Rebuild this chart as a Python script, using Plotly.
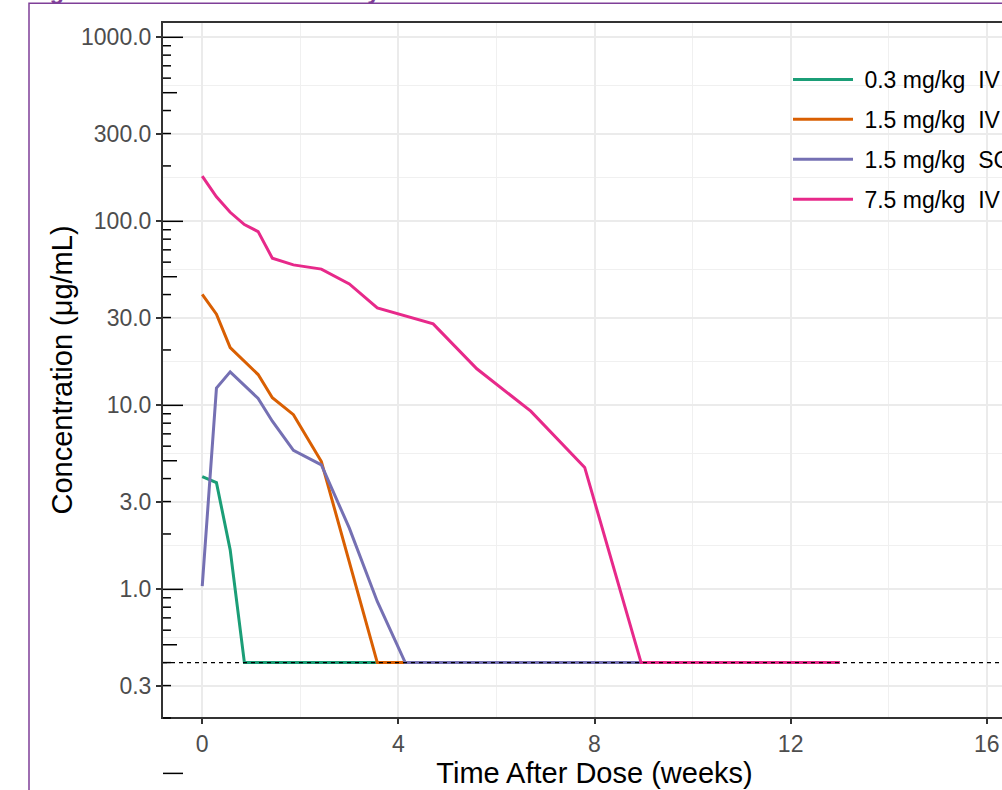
import math
import plotly.graph_objects as go

# ---------------- data ----------------
series_names = ["0.3 mg/kg\u00a0 IV", "1.5 mg/kg\u00a0 IV", "1.5 mg/kg\u00a0 SC", "7.5 mg/kg\u00a0 IV"]
series_colors = ["#1B9E77", "#D95F02", "#7570B3", "#E7298A"]

weeks_03iv = [0, 0.29, 0.57, 0.86, 13.0]
conc_03iv = [4.1, 3.8, 1.64, 0.4, 0.4]

weeks_15iv = [0, 0.29, 0.57, 0.86, 1.14, 1.43, 1.86, 2.43, 3.0, 3.57, 4.14, 13.0]
conc_15iv = [40.1, 31.3, 20.6, 17.3, 14.7, 11.0, 8.9, 4.95, 1.42, 0.4, 0.4, 0.4]

weeks_15sc = [0, 0.29, 0.57, 0.86, 1.14, 1.43, 1.86, 2.43, 3.0, 3.57, 4.14, 13.0]
conc_15sc = [1.04, 12.4, 15.2, 12.9, 10.9, 8.2, 5.7, 4.75, 2.15, 0.86, 0.4, 0.4]

weeks_75iv = [0, 0.29, 0.57, 0.86, 1.14, 1.43, 1.86, 2.43, 3.0, 3.57, 4.71, 5.6, 6.7, 7.8, 8.95, 13.0]
conc_75iv = [176, 136, 112, 96, 88, 63, 58, 55, 45.7, 33.8, 27.7, 15.8, 9.3, 4.6, 0.4, 0.4]

lloq = 0.4

x_tickvals = [0, 4, 8, 12, 16]
x_minor = [2, 6, 10, 14]
y_tickvals = [0.3, 1, 3, 10, 30, 100, 300, 1000]
y_ticktext = ["0.3", "1.0", "3.0", "10.0", "30.0", "100.0", "300.0", "1000.0"]
y_minor = [0.548, 1.73, 5.48, 17.3, 54.8, 173, 548]

title_text = "Figure 1: Mean Serum Antibody Concentration-Time Profiles"

# ---------------- layout constants ----------------
W, H = 1100, 800
ML, MR, MT, MB = 163, 74, 23, 83
PLOT_W = W - ML - MR
PLOT_H = H - MT - MB
X_RANGE = [-0.8, 16.8]
Y_LO, Y_HI = math.log10(0.2025), math.log10(1196)
FONT = "Liberation Sans, Arial, sans-serif"

fig = go.Figure()
all_x = [weeks_03iv, weeks_15iv, weeks_15sc, weeks_75iv]
all_y = [conc_03iv, conc_15iv, conc_15sc, conc_75iv]
for i, (name, col, xs, ys) in enumerate(zip(series_names, series_colors, all_x, all_y)):
    fig.add_trace(go.Scatter(x=xs, y=ys, mode="lines", name="\u00a0" + name,
                             line=dict(color=col, width=3), legendgroup=f"g{i}"))

# LLOQ dashed reference line across the axis range
fig.add_trace(go.Scatter(x=X_RANGE, y=[lloq, lloq], mode="lines", showlegend=False,
                         hoverinfo="skip", line=dict(color="black", width=1.2, dash="4px,4px")))

shapes = []
# log ticks on the left side (annotation_logticks style)
for k in range(-1, 4):
    for m in range(1, 10):
        v = m * 10 ** k
        lv = math.log10(v)
        if lv > Y_HI:
            continue
        length = 20 if m == 1 else (14 if m == 5 else 8)
        yp = (lv - Y_LO) / (Y_HI - Y_LO)
        shapes.append(dict(type="line", xref="paper", yref="paper", x0=0, x1=length / PLOT_W,
                           y0=yp, y1=yp, line=dict(color="black", width=1.5)))

# purple outer frame
shapes.append(dict(type="rect", xref="paper", yref="paper",
                   x0=(29 - ML) / PLOT_W, x1=1.3, y0=-0.3, y1=(MT + PLOT_H - 3.3) / PLOT_H,
                   line=dict(color="#7F3F98", width=1.5), fillcolor="rgba(0,0,0,0)", layer="above"))

axis_common = dict(
    showline=True, linecolor="#333333", linewidth=2, mirror=True,
    ticks="outside", ticklen=5, tickwidth=1.5, tickcolor="#333333",
    showgrid=True, gridcolor="#EBEBEB", gridwidth=1.5, zeroline=False,
    tickfont=dict(family=FONT, size=23, color="#4D4D4D"),
)

fig.update_layout(
    width=W, height=H,
    margin=dict(l=ML, r=MR, t=MT, b=MB, autoexpand=False),
    paper_bgcolor="white", plot_bgcolor="white",
    font=dict(family=FONT, color="black"),
    xaxis=dict(range=X_RANGE, tickmode="array", tickvals=x_tickvals,
               minor=dict(tickvals=x_minor, showgrid=True, gridcolor="#F0F0F0", gridwidth=1, ticks=""),
               title=dict(text="Time After Dose (weeks)", font=dict(family=FONT, size=29, color="black"),
                          standoff=6),
               automargin=False, **axis_common),
    yaxis=dict(type="log", range=[Y_LO, Y_HI], tickmode="array", tickvals=y_tickvals, ticktext=y_ticktext,
               minor=dict(tickvals=y_minor, showgrid=True, gridcolor="#F0F0F0", gridwidth=1, ticks=""),
               title=dict(text="Concentration (μg/mL)", font=dict(family=FONT, size=29, color="black"),
                          standoff=0),
               automargin=False, **axis_common),
    legend=dict(x=(788 - ML) / PLOT_W, xanchor="left", y=(MT + PLOT_H - 58) / PLOT_H, yanchor="top",
                bgcolor="rgba(0,0,0,0)", font=dict(family=FONT, size=23, color="black"),
                itemwidth=60, tracegroupgap=7, traceorder="grouped"),
    shapes=shapes,
    annotations=[dict(text="<b>" + title_text + "</b>", xref="paper", yref="paper",
                      x=(27 - ML) / PLOT_W, xanchor="left", y=(MT + PLOT_H - 6) / PLOT_H, yanchor="bottom",
                      showarrow=False, font=dict(family=FONT, size=23.4, color="#7F3F98"))],
    showlegend=True,
)

fig.write_html("out.html",
               config={"displayModeBar": False},
               post_script="document.documentElement.style.overflow='hidden';"
                           "document.body.style.margin='0';document.body.style.overflow='hidden';")
